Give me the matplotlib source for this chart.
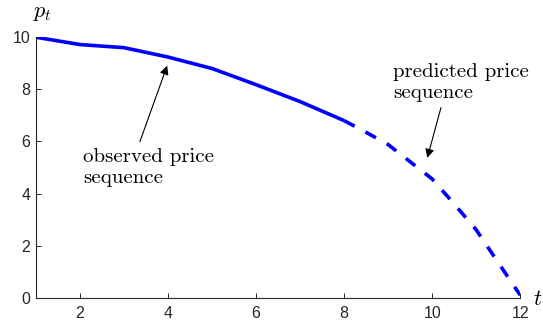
import matplotlib
matplotlib.use("Agg")
import matplotlib.pyplot as plt

# observed prices (solid) and predicted continuation (dashed)
t_obs = [1, 2, 3, 4, 5, 6, 7, 8]
p_obs = [10.0, 9.72, 9.6, 9.24, 8.8, 8.18, 7.53, 6.8]
t_pred = [8, 8.5, 9.0, 9.5, 10.0, 10.5, 11.0, 11.5, 12.0]
p_pred = [6.8, 6.35, 5.88, 5.22, 4.56, 3.6, 2.61, 1.35, 0.1]

x_ticks = [2, 4, 6, 8, 10, 12]
y_ticks = [0, 2, 4, 6, 8, 10]


def main():
    plt.rcParams["mathtext.fontset"] = "cm"
    fig = plt.figure(figsize=(5.43, 3.24), dpi=100)
    ax = fig.add_axes([0.0663, 0.081, 0.8917, 0.804])

    ax.plot(t_obs, p_obs, color="#0000ff", lw=2.6, solid_capstyle="butt")
    ax.plot(t_pred, p_pred, color="#0000ff", lw=2.6, dashes=(3.3, 3.4),
            dash_capstyle="butt")

    ax.set_xlim(1, 12)
    ax.set_ylim(0, 10)
    ax.set_xticks(x_ticks)
    ax.set_yticks(y_ticks)

    for side in ["top", "right"]:
        ax.spines[side].set_visible(False)
    for side in ["left", "bottom"]:
        ax.spines[side].set_color("#262626")
        ax.spines[side].set_linewidth(0.8)

    ax.tick_params(direction="in", length=3.5, width=0.7, color="#262626",
                   labelcolor="#262626", labelsize=11.5)
    ax.tick_params(axis="x", pad=6)
    ax.tick_params(axis="y", pad=4)
    for lab in ax.get_xticklabels() + ax.get_yticklabels():
        lab.set_fontfamily("Liberation Sans")

    fig.text(43 / 543, 1 - 13 / 324, r"$p_t$", fontsize=16, ha="center", va="center")
    fig.text(538 / 543, 1 - 299 / 324, r"$t$", fontsize=16, ha="center", va="center")

    # labels and arrows
    ax.text(2.07, 5.0, "observed price\nsequence", fontfamily="cmr10",
            fontsize=15, ha="left", va="center", linespacing=1.2)
    ax.annotate("", xy=(3.98, 8.91), xytext=(3.36, 5.99),
                arrowprops=dict(arrowstyle="-|>", color="black", lw=0.8,
                                mutation_scale=13, shrinkA=0, shrinkB=0))
    ax.text(9.11, 8.25, "predicted price\nsequence", fontfamily="cmr10",
            fontsize=15, ha="left", va="center", linespacing=1.2)
    ax.annotate("", xy=(9.89, 5.37), xytext=(10.2, 7.3),
                arrowprops=dict(arrowstyle="-|>", color="black", lw=0.8,
                                mutation_scale=13, shrinkA=0, shrinkB=0))

    fig.savefig("out.png", dpi=100)


if __name__ == '__main__':
    main()
